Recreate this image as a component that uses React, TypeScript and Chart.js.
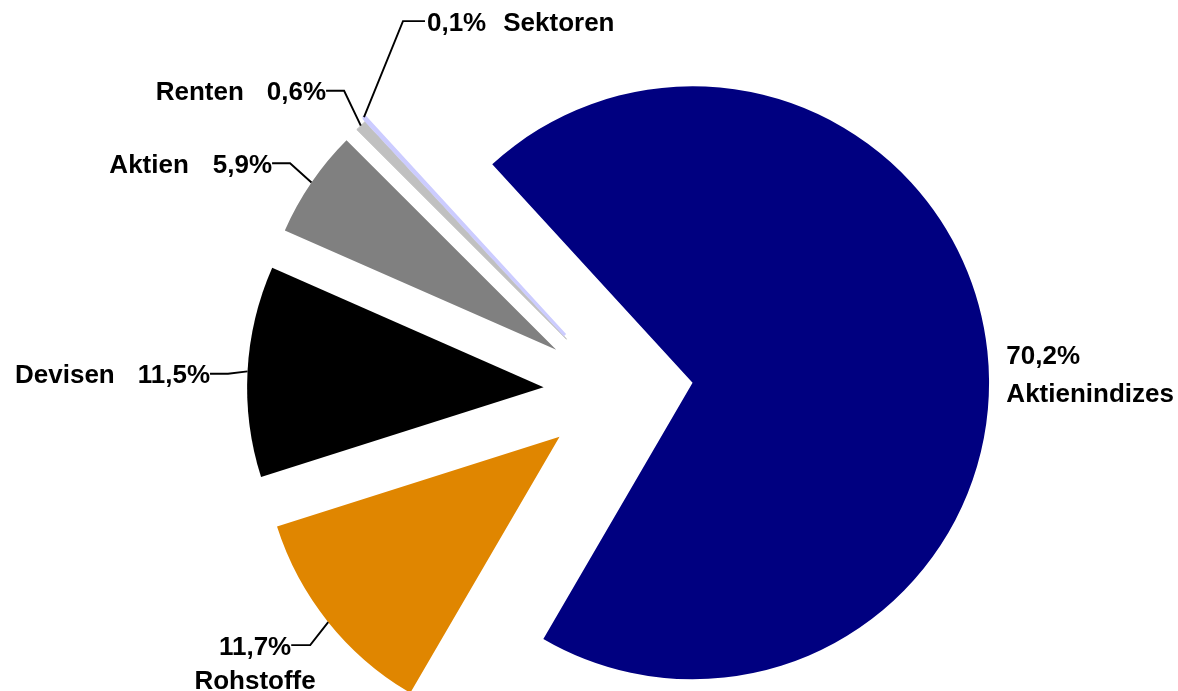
import React, { useEffect, useRef } from 'react';
import { Chart, registerables } from 'chart.js';

Chart.register(...registerables);

// ---- data ----
const categories = ['Aktienindizes', 'Rohstoffe', 'Devisen', 'Aktien', 'Renten', 'Sektoren'];
const shares = [70.2, 11.7, 11.5, 5.9, 0.6, 0.1];
const pctLabels = ['70,2%', '11,7%', '11,5%', '5,9%', '0,6%', '0,1%'];

// ---- styles ----
const colors = ['#000080', '#E08600', '#000000', '#808080', '#C0C0C0', '#CCCCFF'];
const borderWidths = [0, 0, 0, 0, 1, 3];
const explode = [76.5, 73, 73, 73, 72, 76];
const FONT = 'bold 26px "Liberation Sans", Arial, sans-serif';

type Spec =
  | { mode: 'block'; dx: number; dy: number; lineGap: number }
  | { mode: 'stack'; ex: number; ey: number; len: number; lineGap: number }
  | { mode: 'left'; ex: number; ey: number; len: number; gap: number }
  | { mode: 'right'; ex: number; ey: number; len: number; gap: number };

const labelSpecs: Spec[] = [
  { mode: 'block', dx: 19, dy: 13, lineGap: 38 },
  { mode: 'stack', ex: -18, ey: 23, len: 19, lineGap: 34 },
  { mode: 'left', ex: -19.5, ey: 2.3, len: 18, gap: 23 },
  { mode: 'left', ex: -21.4, ey: -19.2, len: 18, gap: 24 },
  { mode: 'left', ex: -16.7, ey: -34.9, len: 18, gap: 23 },
  { mode: 'right', ex: 39, ey: -96, len: 22, gap: 17 },
];

const explodePlugin = {
  id: 'explodeSlices',
  afterDatasetUpdate(chart: any, args: any) {
    const meta = args.meta;
    meta.data.forEach((arc: any, i: number) => {
      const mid = (arc.startAngle + arc.endAngle) / 2;
      const d = explode[i] || 0;
      arc.x = arc.x + Math.cos(mid) * d;
      arc.y = arc.y + Math.sin(mid) * d;
    });
  },
};

const labelPlugin = {
  id: 'sliceLabels',
  afterDatasetsDraw(chart: any) {
    const ctx: CanvasRenderingContext2D = chart.ctx;
    const meta = chart.getDatasetMeta(0);
    ctx.save();
    ctx.font = FONT;
    ctx.fillStyle = '#000';
    ctx.strokeStyle = '#000';
    ctx.lineWidth = 1.9;
    ctx.lineJoin = 'miter';
    ctx.textBaseline = 'alphabetic';
    const capHalf = 9.5;
    meta.data.forEach((arc: any, i: number) => {
      const mid = (arc.startAngle + arc.endAngle) / 2;
      const ax = arc.x + Math.cos(mid) * arc.outerRadius;
      const ay = arc.y + Math.sin(mid) * arc.outerRadius;
      const spec = labelSpecs[i];
      const pct = pctLabels[i];
      const cat = categories[i];
      if (spec.mode === 'block') {
        ctx.textAlign = 'left';
        ctx.fillText(pct, ax + spec.dx, ay + spec.dy);
        ctx.fillText(cat, ax + spec.dx, ay + spec.dy + spec.lineGap);
        return;
      }
      const exX = ax + spec.ex;
      const exY = ay + spec.ey;
      const dir = spec.mode === 'right' ? 1 : -1;
      const endX = exX + dir * spec.len;
      ctx.beginPath();
      ctx.moveTo(ax, ay);
      ctx.lineTo(exX, exY);
      ctx.lineTo(endX, exY);
      ctx.stroke();
      const base = exY + capHalf;
      const pw = ctx.measureText(pct).width;
      if (spec.mode === 'stack') {
        ctx.textAlign = 'right';
        ctx.fillText(pct, endX, base);
        ctx.textAlign = 'center';
        ctx.fillText(cat, endX - pw / 2, base + spec.lineGap);
      } else if (spec.mode === 'left') {
        ctx.textAlign = 'right';
        ctx.fillText(pct, endX, base);
        ctx.fillText(cat, endX - pw - spec.gap, base);
      } else {
        ctx.textAlign = 'left';
        ctx.fillText(pct, endX + 2, base);
        ctx.fillText(cat, endX + 2 + pw + spec.gap, base);
      }
    });
    ctx.restore();
  },
};

export default function App() {
  const ref = useRef<HTMLCanvasElement | null>(null);
  useEffect(() => {
    if (!ref.current) return;
    const chart = new Chart(ref.current, {
      type: 'pie',
      data: {
        labels: categories,
        datasets: [
          {
            data: shares,
            backgroundColor: colors,
            borderColor: colors,
            borderWidth: borderWidths,
          },
        ],
      },
      options: {
        animation: false,
        responsive: false,
        events: [],
        rotation: -42.5,
        radius: 296.5,
        layout: { padding: { left: 55, right: 0, top: 91, bottom: 0 } },
        plugins: {
          legend: { display: false },
          tooltip: { enabled: false },
        },
      } as any,
      plugins: [explodePlugin, labelPlugin],
    });
    return () => chart.destroy();
  }, []);
  return (
    <div style={{ position: 'absolute', left: 0, top: 0, width: 1178, height: 691, background: '#fff' }}>
      <canvas ref={ref} width={1178} height={691} style={{ display: 'block' }} />
    </div>
  );
}
